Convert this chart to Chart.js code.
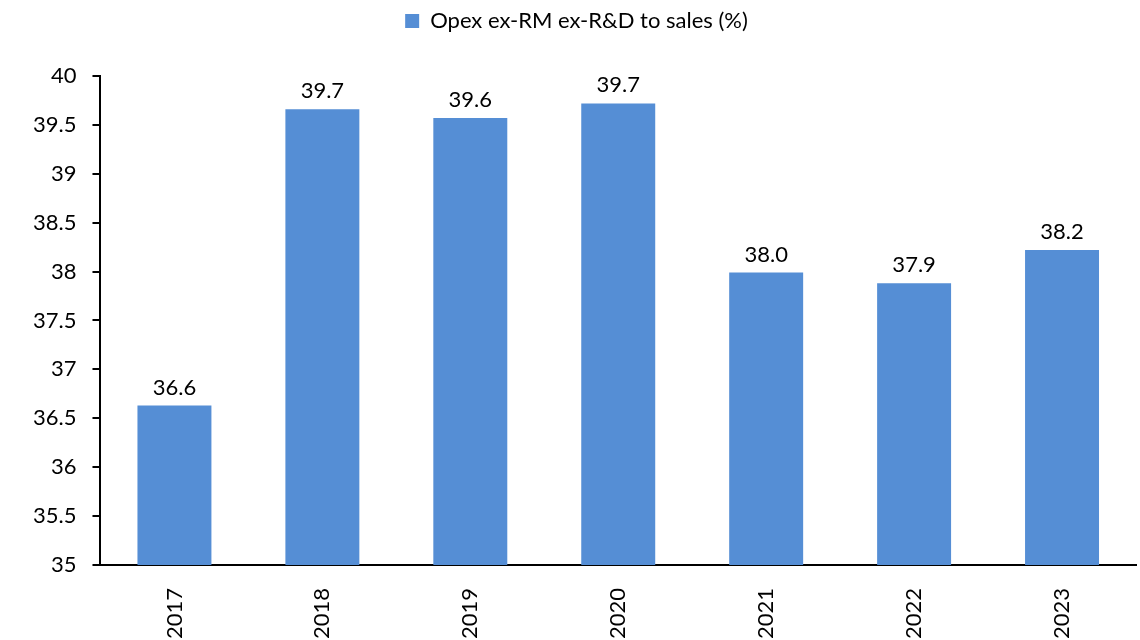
<!DOCTYPE html>
<html>
<head>
<meta charset="utf-8">
<script src="https://cdn.jsdelivr.net/npm/chart.js@4/dist/chart.umd.min.js"></script>
<style>
  html, body { margin: 0; padding: 0; background: #fff; }
  #wrap { width: 1140px; height: 640px; }
</style>
</head>
<body>
<div id="wrap"><canvas id="chart"></canvas></div>
<script>
const years = ["2017", "2018", "2019", "2020", "2021", "2022", "2023"];
const opexRatio = [36.63, 39.66, 39.57, 39.72, 37.99, 37.88, 38.22];
const seriesName = "Opex ex-RM ex-R&D to sales (%)";
const barColor = "#558ED5";
const fontFamily = "Lato, 'Liberation Sans', sans-serif";
const fontSize = 22;

// value labels above each bar
const barLabels = {
  id: "barLabels",
  afterDatasetsDraw(chart) {
    const ctx = chart.ctx;
    const meta = chart.getDatasetMeta(0);
    ctx.save();
    ctx.font = fontSize + "px " + fontFamily;
    ctx.fillStyle = "#000";
    ctx.textAlign = "center";
    ctx.textBaseline = "bottom";
    meta.data.forEach((bar, i) => {
      ctx.fillText(opexRatio[i].toFixed(1), bar.x, bar.y - 7);
    });
    ctx.restore();
  }
};

// extra gap under the legend
const legendGap = {
  id: "legendGap",
  beforeInit(chart) {
    const fit = chart.legend.fit;
    chart.legend.fit = function () {
      fit.call(this);
      this.height += 34;
    };
  }
};

new Chart(document.getElementById("chart"), {
  type: "bar",
  data: {
    labels: years,
    datasets: [{
      label: seriesName,
      data: opexRatio,
      backgroundColor: barColor,
      borderWidth: 0,
      categoryPercentage: 1,
      barPercentage: 0.5
    }]
  },
  options: {
    responsive: true,
    maintainAspectRatio: false,
    animation: false,
    layout: { padding: { left: 17, right: 4, top: 2, bottom: -22 } },
    plugins: {
      legend: {
        position: "top",
        labels: {
          boxWidth: 14,
          boxHeight: 14,
          padding: 8,
          color: "#000",
          font: { family: fontFamily, size: fontSize }
        }
      },
      tooltip: { enabled: false }
    },
    scales: {
      x: {
        grid: { display: false, drawTicks: false },
        border: { color: "#000", width: 2 },
        ticks: {
          color: "#000",
          font: { family: fontFamily, size: fontSize },
          minRotation: 90,
          maxRotation: 90,
          padding: 23
        }
      },
      y: {
        min: 35,
        max: 40,
        grid: { drawOnChartArea: false, drawTicks: true, tickLength: 8, color: "#000", lineWidth: 2 },
        border: { color: "#000", width: 2 },
        ticks: {
          stepSize: 0.5,
          color: "#000",
          padding: 16,
          font: { family: fontFamily, size: fontSize },
          callback: v => String(v)
        }
      }
    }
  },
  plugins: [barLabels, legendGap]
});
</script>
</body>
</html>
